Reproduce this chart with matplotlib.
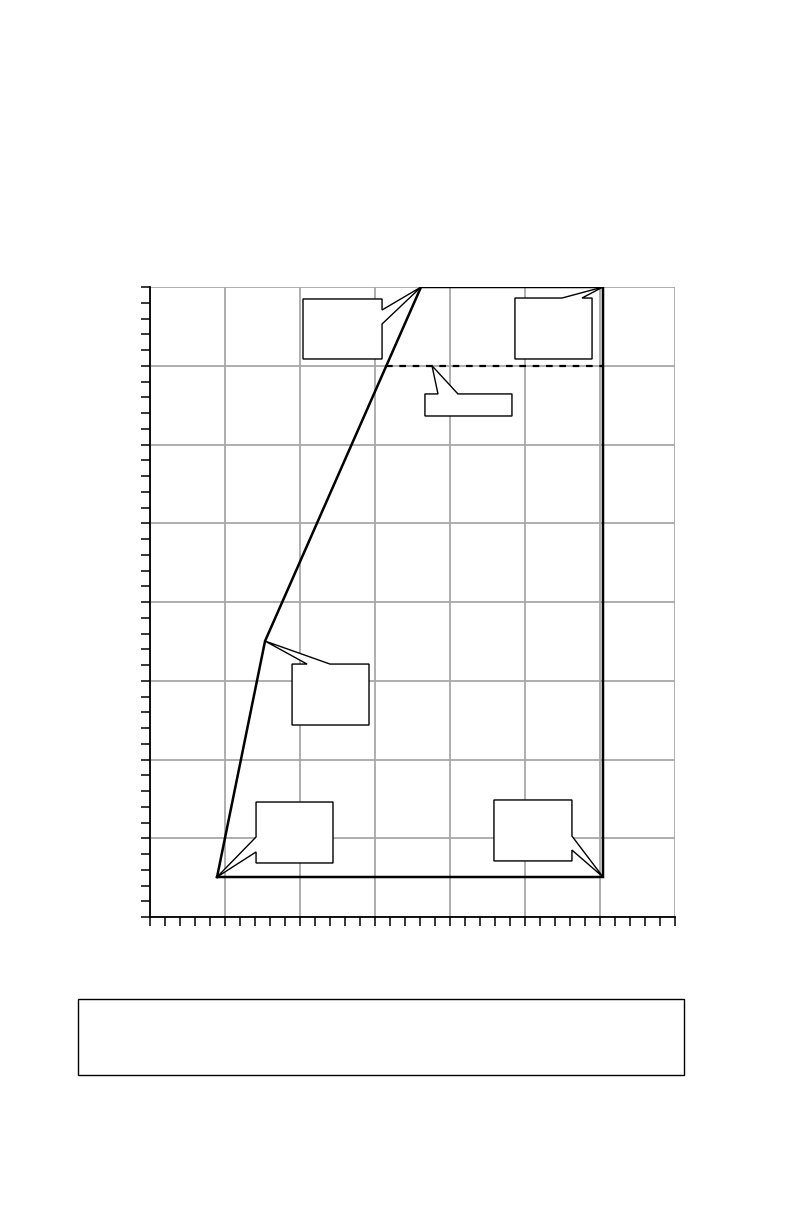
import matplotlib
matplotlib.use("Agg")
import matplotlib.pyplot as plt
from matplotlib.patches import Polygon, Rectangle
from matplotlib.ticker import MultipleLocator

# outline of the shape (data units)
outline_x = [4.47, 7.67, 18.07, 30.2, 30.2, 4.47]
outline_y = [2.54, 17.52, 40.0, 40.0, 2.54, 2.54]

# dashed level line
level_y = 35.0
level_x_end = 30.2

fig = plt.figure(figsize=(7.92, 12.24), dpi=100)
ax = fig.add_axes([150 / 792, 1 - 917 / 1224, 525 / 792, 630 / 1224])

ax.set_xlim(0, 35)
ax.set_ylim(0, 40)

ax.xaxis.set_major_locator(MultipleLocator(5))
ax.xaxis.set_minor_locator(MultipleLocator(1))
ax.yaxis.set_major_locator(MultipleLocator(5))
ax.yaxis.set_minor_locator(MultipleLocator(1))
ax.grid(True, which="major", color="#a8a8a8", linewidth=1.3, zorder=0)
ax.set_axisbelow(True)

ax.tick_params(which="both", direction="out", length=6.5, width=1.1,
               labelbottom=False, labelleft=False, color="black")
for side in ["top", "right"]:
    ax.spines[side].set_visible(False)
for side in ["left", "bottom"]:
    ax.spines[side].set_linewidth(1.3)

# main outline
ax.plot(outline_x, outline_y, color="black", linewidth=1.8, zorder=3,
        solid_joinstyle="miter")

# where the sloped edge crosses the level line
x_a, y_a = outline_x[1], outline_y[1]
x_b, y_b = outline_x[2], outline_y[2]
level_x_start = x_a + (level_y - y_a) / (y_b - y_a) * (x_b - x_a)
ax.plot([level_x_start, level_x_end], [level_y, level_y], color="black",
        linewidth=1.6, linestyle=(0, (3, 3)), zorder=3)


def callout(points):
    poly = Polygon(points, closed=True, facecolor="white", edgecolor="black",
                   linewidth=1.0, zorder=4)
    ax.add_patch(poly)


top_tip = (outline_x[2], outline_y[2])
right_top_tip = (outline_x[3], outline_y[3])
kink_tip = (outline_x[1], outline_y[1])
left_bottom_tip = (outline_x[0], outline_y[0])
right_bottom_tip = (outline_x[4], outline_y[4])

callout([(10.2, 39.24), (15.47, 39.24), (15.47, 38.54), top_tip,
         (15.47, 37.65), (15.47, 35.43), (10.2, 35.43)])
callout([(24.33, 39.3), (27.47, 39.3), right_top_tip, (28.8, 39.3),
         (29.47, 39.3), (29.47, 35.43), (24.33, 35.43)])
callout([(18.33, 33.21), (19.2, 33.21), (18.8, level_y), (20.53, 33.21),
         (24.13, 33.21), (24.13, 31.81), (18.33, 31.81)])
callout([(9.47, 16.06), (10.47, 16.06), kink_tip, (12.0, 16.06),
         (14.6, 16.06), (14.6, 12.19), (9.47, 12.19)])
callout([(7.07, 7.3), (12.2, 7.3), (12.2, 3.43), (7.07, 3.43),
         (7.07, 4.13), left_bottom_tip, (7.07, 5.08)])
callout([(22.93, 7.43), (28.13, 7.43), (28.13, 5.14), right_bottom_tip,
         (28.13, 4.25), (28.13, 3.56), (22.93, 3.56)])

# empty caption box under the chart
fig.patches.append(Rectangle((78 / 792, 1 - 1075 / 1224), 606 / 792, 76 / 1224,
                             transform=fig.transFigure, facecolor="white",
                             edgecolor="black", linewidth=1.0))

fig.savefig("out.png", dpi=100)
